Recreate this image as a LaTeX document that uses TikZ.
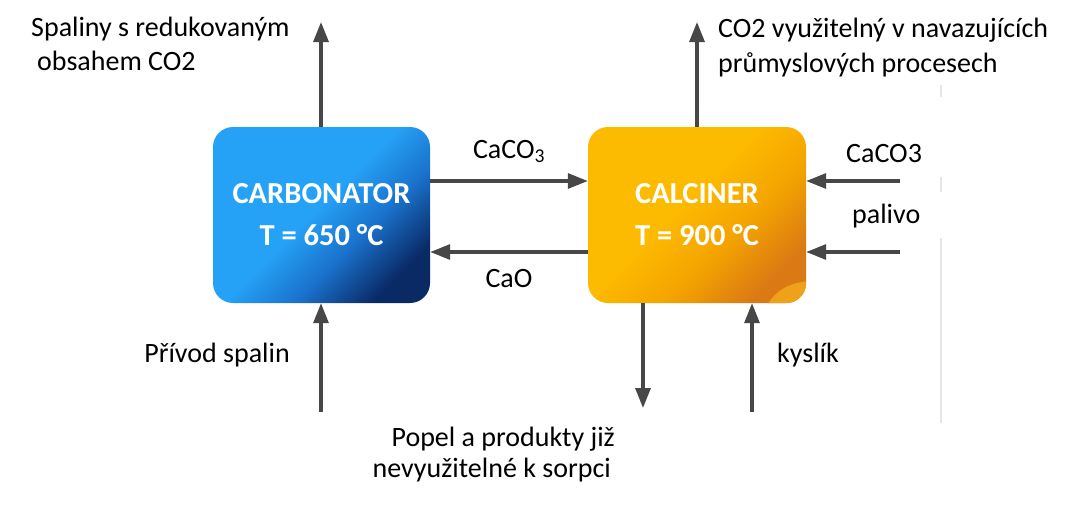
\documentclass[tikz,border=0pt]{standalone}
\usepackage{fontspec}
\setmainfont{Carlito}
\usetikzlibrary{arrows.meta}
\definecolor{arrgray}{HTML}{474747}
\definecolor{cbA}{HTML}{25A2F6}
\definecolor{cbB}{HTML}{1A72CC}
\definecolor{cbC}{HTML}{0A2A66}
\definecolor{clA}{HTML}{FDBB00}
\definecolor{clB}{HTML}{F4A400}
\definecolor{clC}{HTML}{DB7A14}
\definecolor{clPatch}{HTML}{EFA11C}
\definecolor{faint}{HTML}{E6E6E6}
\pgfdeclarehorizontalshading{carbsh}{100bp}{color(0bp)=(cbA); color(48bp)=(cbA); color(61bp)=(cbB); color(75bp)=(cbC); color(100bp)=(cbC)}
\pgfdeclarehorizontalshading{calcsh}{100bp}{color(0bp)=(clA); color(45bp)=(clA); color(60bp)=(clB); color(75bp)=(clC); color(100bp)=(clC)}
\tikzset{
  reactor/.style={rounded corners=20pt, minimum width=217pt, minimum height=176pt,
    inner sep=0pt, align=center, text=white,
    font=\bfseries\fontsize{30.5}{42}\selectfont, shading angle=-45},
  rtext/.style={text=white, align=center, inner sep=0pt,
    font=\bfseries\fontsize{30.5}{42}\selectfont},
  arr/.style={draw=arrgray, line width=3.2pt, -{Triangle[length=20pt,width=15pt]}},
  lbl/.style={font=\fontsize{28}{34}\selectfont, inner sep=0pt, text=black},
}
\begin{document}
\begin{tikzpicture}[x=1pt,y=-1pt]
\useasboundingbox (0,0) rectangle (1071,514);
% faint page edge
\draw[faint, line width=2pt] (941,85) -- (941,97);
\draw[faint, line width=2pt] (941,177) -- (941,192);
\draw[faint, line width=2pt] (941,238) -- (941,423);
% reactors
\node[reactor, shade, shading=carbsh] (carb) at (321.5,215) {CARBONATOR\\T = 650 °C};
\node[reactor, shade, shading=calcsh, minimum width=218pt] (calc) at (697,215) {};
\begin{scope}
  \clip[rounded corners=20pt] (calc.south west) rectangle (calc.north east);
  \fill[clPatch] (768,304) .. controls (776,290) and (790,283) .. (808,281) -- (808,304) -- cycle;
\end{scope}
\node[rtext] (calctxt) at (calc.center) {CALCINER\\T = 900 °C};
% coordinates
\coordinate (ctop) at (321,22);
\coordinate (cbot) at (321,412);
\coordinate (ktop) at (697,22);
\coordinate (yA) at (0,181);
\coordinate (yB) at (0,252);
\coordinate (in1) at (900,181);
\coordinate (in2) at (900,252);
\coordinate (ash) at (643,408);
\coordinate (oxy) at (752,412);
% arrows
\draw[arr] (carb.north -| ctop) -- (ctop);
\draw[arr] (cbot) -- (carb.south -| cbot);
\draw[arr] (carb.east |- yA) -- (calc.west |- yA);
\draw[arr] (calc.west |- yB) -- (carb.east |- yB);
\draw[arr] (calc.north -| ktop) -- (ktop);
\draw[arr] (in1) -- (calc.east |- in1);
\draw[arr] (in2) -- (calc.east |- in2);
\draw[arr] (calc.south -| ash) -- (ash);
\draw[arr] (oxy) -- (calc.south -| oxy);
% labels
\node[lbl, anchor=base west] (l1a) at (31,36) {Spaliny s redukovaným};
\node[lbl, anchor=base west] (l1b) at (37,70) {obsahem CO2};
\node[lbl, anchor=base west] (l2a) at (718,37) {CO2 využitelný v navazujících};
\node[lbl, anchor=base west] (l2b) at (718,72) {průmyslových procesech};
\node[lbl, anchor=base] (lcaco) at (509,158) {CaCO\textsubscript{3}};
\node[lbl, anchor=base] (lcao) at (509,287) {CaO};
\node[lbl, anchor=base west] (lin1) at (846,162) {CaCO3};
\node[lbl, anchor=base west] (lin2) at (852,223) {palivo};
\node[lbl, anchor=base east] (lspal) at (290,362) {Přívod spalin};
\node[lbl, anchor=base west] (loxy) at (777,362) {kyslík};
\node[lbl, anchor=base east] (lash1) at (615,446) {Popel a produkty již};
\node[lbl, anchor=base east] (lash2) at (611,477) {nevyužitelné k sorpci};
\end{tikzpicture}
\end{document}
